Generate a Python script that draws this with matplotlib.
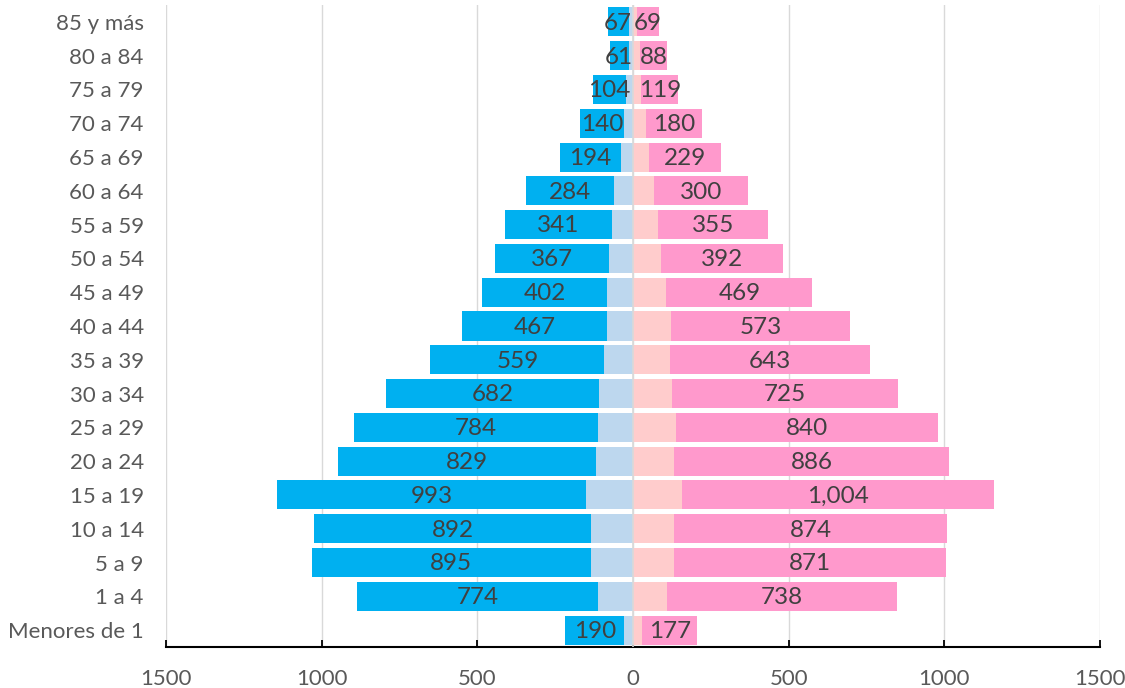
import matplotlib.pyplot as plt
import numpy as np

plt.rcParams['font.family'] = ['Lato', 'DejaVu Sans']

# age groups, bottom to top
ages = ["Menores de 1", "1 a 4", "5 a 9", "10 a 14", "15 a 19", "20 a 24", "25 a 29",
        "30 a 34", "35 a 39", "40 a 44", "45 a 49", "50 a 54", "55 a 59", "60 a 64",
        "65 a 69", "70 a 74", "75 a 79", "80 a 84", "85 y más"]

# inner (light) segments
men_inner = [28, 113, 136, 134, 150, 119, 113, 110, 92, 83, 83, 76, 69, 60, 40, 30, 24, 14, 14]
women_inner = [29, 110, 133, 133, 156, 130, 138, 126, 119, 123, 107, 90, 80, 68, 52, 42, 27, 22, 14]

# outer (labelled) segments
men_outer = [190, 774, 895, 892, 993, 829, 784, 682, 559, 467, 402, 367, 341, 284, 194, 140, 104, 61, 67]
women_outer = [177, 738, 871, 874, 1004, 886, 840, 725, 643, 573, 469, 392, 355, 300, 229, 180, 119, 88, 69]

xticks = [-1500, -1000, -500, 0, 500, 1000, 1500]

fig = plt.figure(figsize=(11.25, 6.88), dpi=100)
ax = fig.add_axes([0.1476, 0.0596, 0.8302, 0.9331])

y = np.arange(len(ages))
h = 0.86
mi = np.array(men_inner)
wi = np.array(women_inner)

ax.barh(y, -mi, height=h, color="#BDD7EE", zorder=2)
ax.barh(y, -np.array(men_outer), left=-mi, height=h, color="#00B0F0", zorder=2)
ax.barh(y, wi, height=h, color="#FFCCCC", zorder=2)
ax.barh(y, women_outer, left=wi, height=h, color="#FF99CC", zorder=2)

# labels centred in the outer segments
for i in range(len(ages)):
    ax.text(-mi[i] - men_outer[i] / 2, y[i] - 0.04, "{:,}".format(men_outer[i]),
            ha="center", va="center", fontsize=17.5, color="#404040", zorder=4)
    ax.text(wi[i] + women_outer[i] / 2, y[i] - 0.04, "{:,}".format(women_outer[i]),
            ha="center", va="center", fontsize=17.5, color="#404040", zorder=4)

ax.axvline(0, color="#D9D9D9", lw=1.2, zorder=3)

ax.set_xlim(-1500, 1500)
ax.set_ylim(-0.5, 18.5)
ax.set_xticks(xticks)
ax.set_xticklabels([str(abs(t)) for t in xticks])
ax.set_yticks(y)
ax.set_yticklabels(ages)

ax.grid(axis="x", color="#D9D9D9", lw=1)
ax.set_axisbelow(True)
for s in ["top", "right", "left"]:
    ax.spines[s].set_visible(False)
ax.spines["bottom"].set_color("black")
ax.spines["bottom"].set_linewidth(1.5)

ax.tick_params(axis="x", direction="in", length=5, width=1.3, colors="black",
               labelcolor="#595959", labelsize=16, pad=15.5)
ax.tick_params(axis="y", length=0, labelcolor="#595959", labelsize=16, pad=16)

plt.savefig("out.png", dpi=100)
